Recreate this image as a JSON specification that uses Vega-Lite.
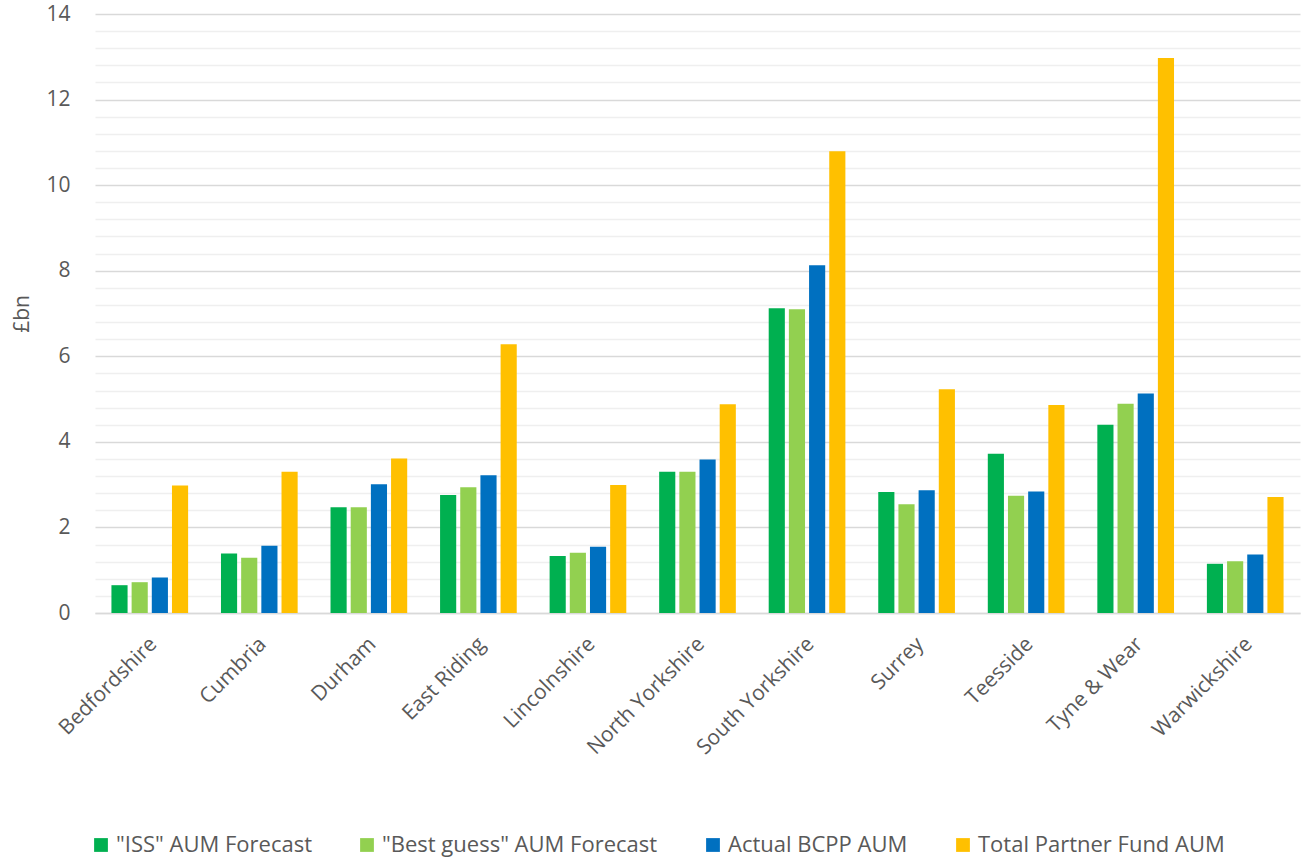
{
  "$schema": "https://vega.github.io/schema/vega-lite/v6.json",
  "width": 1205,
  "height": 599,
  "autosize": {"type": "none"},
  "padding": {"left": 95, "top": 14, "right": 3, "bottom": 252},
  "background": "white",
  "config": {
    "font": "Open Sans",
    "view": {"stroke": null}
  },
  "data": {
    "values": [
      {"fund": "Bedfordshire", "series": "\"ISS\" AUM Forecast", "value": 0.65},
      {"fund": "Bedfordshire", "series": "\"Best guess\" AUM Forecast", "value": 0.72},
      {"fund": "Bedfordshire", "series": "Actual BCPP AUM", "value": 0.83},
      {"fund": "Bedfordshire", "series": "Total Partner Fund AUM", "value": 2.98},
      {"fund": "Cumbria", "series": "\"ISS\" AUM Forecast", "value": 1.39},
      {"fund": "Cumbria", "series": "\"Best guess\" AUM Forecast", "value": 1.29},
      {"fund": "Cumbria", "series": "Actual BCPP AUM", "value": 1.57},
      {"fund": "Cumbria", "series": "Total Partner Fund AUM", "value": 3.3},
      {"fund": "Durham", "series": "\"ISS\" AUM Forecast", "value": 2.47},
      {"fund": "Durham", "series": "\"Best guess\" AUM Forecast", "value": 2.47},
      {"fund": "Durham", "series": "Actual BCPP AUM", "value": 3.01},
      {"fund": "Durham", "series": "Total Partner Fund AUM", "value": 3.61},
      {"fund": "East Riding", "series": "\"ISS\" AUM Forecast", "value": 2.76},
      {"fund": "East Riding", "series": "\"Best guess\" AUM Forecast", "value": 2.94},
      {"fund": "East Riding", "series": "Actual BCPP AUM", "value": 3.22},
      {"fund": "East Riding", "series": "Total Partner Fund AUM", "value": 6.28},
      {"fund": "Lincolnshire", "series": "\"ISS\" AUM Forecast", "value": 1.33},
      {"fund": "Lincolnshire", "series": "\"Best guess\" AUM Forecast", "value": 1.41},
      {"fund": "Lincolnshire", "series": "Actual BCPP AUM", "value": 1.55},
      {"fund": "Lincolnshire", "series": "Total Partner Fund AUM", "value": 2.99},
      {"fund": "North Yorkshire", "series": "\"ISS\" AUM Forecast", "value": 3.3},
      {"fund": "North Yorkshire", "series": "\"Best guess\" AUM Forecast", "value": 3.3},
      {"fund": "North Yorkshire", "series": "Actual BCPP AUM", "value": 3.59},
      {"fund": "North Yorkshire", "series": "Total Partner Fund AUM", "value": 4.88},
      {"fund": "South Yorkshire", "series": "\"ISS\" AUM Forecast", "value": 7.12},
      {"fund": "South Yorkshire", "series": "\"Best guess\" AUM Forecast", "value": 7.1},
      {"fund": "South Yorkshire", "series": "Actual BCPP AUM", "value": 8.13},
      {"fund": "South Yorkshire", "series": "Total Partner Fund AUM", "value": 10.79},
      {"fund": "Surrey", "series": "\"ISS\" AUM Forecast", "value": 2.83},
      {"fund": "Surrey", "series": "\"Best guess\" AUM Forecast", "value": 2.54},
      {"fund": "Surrey", "series": "Actual BCPP AUM", "value": 2.87},
      {"fund": "Surrey", "series": "Total Partner Fund AUM", "value": 5.23},
      {"fund": "Teesside", "series": "\"ISS\" AUM Forecast", "value": 3.72},
      {"fund": "Teesside", "series": "\"Best guess\" AUM Forecast", "value": 2.74},
      {"fund": "Teesside", "series": "Actual BCPP AUM", "value": 2.84},
      {"fund": "Teesside", "series": "Total Partner Fund AUM", "value": 4.86},
      {"fund": "Tyne & Wear", "series": "\"ISS\" AUM Forecast", "value": 4.4},
      {"fund": "Tyne & Wear", "series": "\"Best guess\" AUM Forecast", "value": 4.89},
      {"fund": "Tyne & Wear", "series": "Actual BCPP AUM", "value": 5.13},
      {"fund": "Tyne & Wear", "series": "Total Partner Fund AUM", "value": 12.97},
      {"fund": "Warwickshire", "series": "\"ISS\" AUM Forecast", "value": 1.15},
      {"fund": "Warwickshire", "series": "\"Best guess\" AUM Forecast", "value": 1.21},
      {"fund": "Warwickshire", "series": "Actual BCPP AUM", "value": 1.37},
      {"fund": "Warwickshire", "series": "Total Partner Fund AUM", "value": 2.71}
    ]
  },
  "mark": {"type": "bar"},
  "encoding": {
    "x": {
      "field": "fund",
      "type": "nominal",
      "sort": null,
      "scale": {"paddingInner": 0.3, "paddingOuter": 0.15},
      "axis": {
        "title": null,
        "labelAngle": -45,
        "labelFontSize": 21,
        "labelColor": "#595959",
        "labelPadding": 20,
        "labelOffset": -4,
        "labelLimit": 400,
        "ticks": false,
        "domainColor": "#d9d9d9",
        "domainWidth": 1.5,
        "grid": false
      }
    },
    "xOffset": {
      "field": "series",
      "type": "nominal",
      "sort": null,
      "scale": {"paddingInner": 0.2, "paddingOuter": 0}
    },
    "y": {
      "field": "value",
      "type": "quantitative",
      "scale": {"domain": [0, 14], "nice": false},
      "axis": {
        "title": "£bn",
        "titleFontSize": 21,
        "titleFontWeight": "normal",
        "titleColor": "#595959",
        "titlePadding": 13,
        "labelFontSize": 21,
        "labelColor": "#595959",
        "labelPadding": 25,
        "ticks": false,
        "domain": false,
        "values": [0, 0.4, 0.8, 1.2, 1.6, 2, 2.4, 2.8, 3.2, 3.6, 4, 4.4, 4.8, 5.2, 5.6, 6, 6.4, 6.8, 7.2, 7.6, 8, 8.4, 8.8, 9.2, 9.6, 10, 10.4, 10.8, 11.2, 11.6, 12, 12.4, 12.8, 13.2, 13.6, 14],
        "labelExpr": "abs(datum.value % 2) < 0.001 ? format(datum.value, 'd') : ''",
        "gridColor": {"condition": {"test": "abs(datum.value % 2) < 0.001", "value": "#d9d9d9"}, "value": "#efefef"},
        "gridWidth": 1.5
      }
    },
    "color": {
      "field": "series",
      "type": "nominal",
      "sort": null,
      "scale": {
        "domain": ["\"ISS\" AUM Forecast", "\"Best guess\" AUM Forecast", "Actual BCPP AUM", "Total Partner Fund AUM"],
        "range": ["#00B050", "#92D050", "#0070C0", "#FFC000"]
      },
      "legend": {
        "title": null,
        "orient": "none",
        "direction": "horizontal",
        "legendX": -5,
        "legendY": 820,
        "symbolType": "square",
        "symbolSize": 190,
        "symbolStrokeWidth": 0,
        "labelFontSize": 22,
        "labelColor": "#595959",
        "labelLimit": 400,
        "labelOffset": 4,
        "columnPadding": 44
      }
    }
  }
}
